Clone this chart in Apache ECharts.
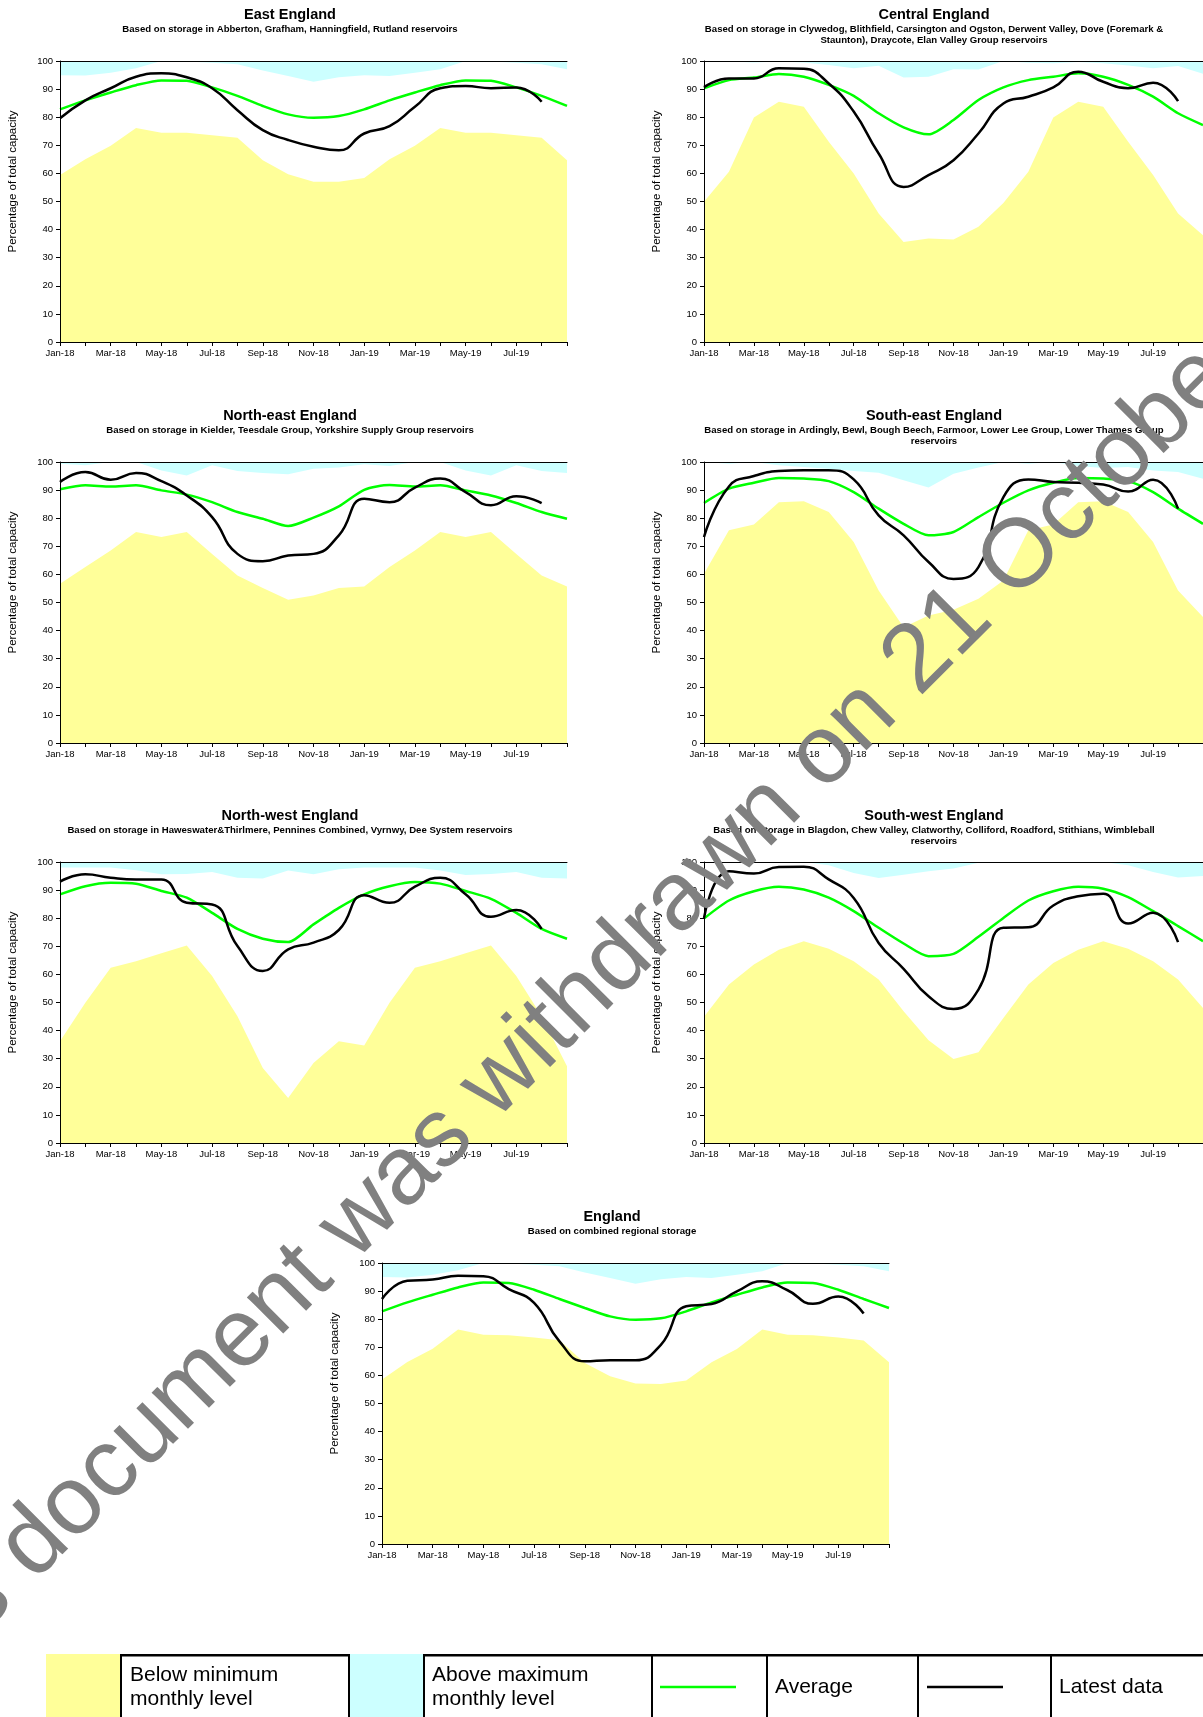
<!DOCTYPE html>
<html>
<head>
<meta charset="utf-8">
<script src="https://cdn.jsdelivr.net/npm/echarts@6/dist/echarts.min.js"></script>
<style>
  html, body { margin: 0; padding: 0; background: #fff; }
  #main { width: 1203px; height: 1717px; }
</style>
</head>
<body>
<div id="main"></div>
<script>
// months on the x axis (Jan-18 .. Sep-19), labels every second month
var months = ['Jan-18', 'Feb-18', 'Mar-18', 'Apr-18', 'May-18', 'Jun-18', 'Jul-18', 'Aug-18', 'Sep-18', 'Oct-18', 'Nov-18', 'Dec-18',
  'Jan-19', 'Feb-19', 'Mar-19', 'Apr-19', 'May-19', 'Jun-19', 'Jul-19', 'Aug-19', 'Sep-19'];
var yTicks = [0, 10, 20, 30, 40, 50, 60, 70, 80, 90, 100];

// East England
var eastMin = [59.4, 65, 69.8, 76.2, 74.5, 74.5, 73.6, 72.7, 64.7, 59.7, 57, 57, 58.4, 65, 69.8, 76.2, 74.5, 74.5, 73.6, 72.7, 64.7];
var eastMax = [94.9, 94.8, 95.8, 97.4, 100, 99.8, 99.4, 98.8, 96.6, 94.7, 92.6, 94.2, 94.9, 94.7, 95.8, 97.1, 100, 99.8, 99.4, 98.8, 97.1];
var eastAvg = [82.8, 86, 88.8, 91.4, 93.1, 93, 90.6, 87.6, 84, 81, 79.8, 80.4, 82.8, 86, 88.8, 91.4, 93.1, 93, 90.6, 87.6, 84];
var eastLatest = [79.6, 86, 90.3, 94.4, 95.6, 94.2, 90.3, 82.5, 75.4, 71.9, 69.5, 68.2, 74.2, 76.8, 83.7, 90.3, 91.1, 90.3, 90.6, 85.5];

// Central England
var centralMin = [49.9, 60.6, 79.9, 85.5, 83.7, 71.3, 60, 45.7, 35.6, 36.8, 36.5, 41, 49.5, 60.6, 79.9, 85.5, 83.7, 71.3, 59.4, 45.7, 38];
var centralMax = [100, 99.8, 99.5, 99.8, 99.5, 98.6, 97.4, 98.3, 94.1, 94.4, 97.1, 97, 100, 99.4, 99.2, 99.6, 99.2, 98.4, 97.4, 98.2, 95.5];
var centralAvg = [90.3, 93.2, 94.1, 95.4, 94.4, 91.5, 87.6, 81.4, 76.4, 73.9, 79, 86.1, 90.6, 93.2, 94.4, 95.6, 94.4, 91.5, 87.3, 81.4, 77.2];
var centralLatest = [90.7, 93.8, 93.8, 97.4, 97.2, 92, 82, 67.1, 55.2, 59.4, 64.7, 74.2, 84.9, 87.3, 90.6, 96.2, 92.6, 90.3, 92.3, 85.7];

// North-east England
var neMin = [56.7, 62.6, 68.5, 75.1, 73.3, 75.1, 67.3, 59.6, 55.2, 51, 52.5, 55.2, 55.7, 62.6, 68.5, 75.1, 73.3, 75.1, 67.3, 59.6, 55.7];
var neMax = [99.4, 98.8, 100, 100, 97, 95.2, 98.8, 96.8, 96.1, 95.6, 97.6, 98, 99.2, 98.6, 100, 100, 97, 95.2, 98.8, 96.8, 96.1];
var neAvg = [90.3, 91.7, 91.3, 91.7, 89.9, 88.4, 85.7, 82.2, 79.8, 77.2, 80.2, 84.2, 90.1, 91.8, 91.3, 91.7, 89.9, 88.1, 85.4, 82.2, 79.8];
var neLatest = [92.9, 96.4, 93.7, 96.1, 93.2, 88.1, 80.4, 67.3, 64.7, 66.7, 67.3, 73.9, 86.9, 85.7, 90.9, 94.1, 89.3, 84.6, 87.8, 85.4];

// South-east England
var seMin = [60.2, 75.7, 77.8, 85.7, 86, 82.2, 71.5, 54.3, 41.2, 45.4, 47.4, 51.3, 57.8, 75.7, 77.8, 85.7, 86, 82.2, 71.5, 54.3, 44.8];
var seMax = [100, 99.4, 100, 98.8, 98.2, 97.6, 96.8, 96.2, 93.5, 90.9, 95.8, 98, 100, 99.4, 100, 98.6, 97.9, 98.2, 97, 96.4, 94];
var seAvg = [85.4, 90.5, 92.6, 94.3, 94.1, 93.2, 89.3, 83.4, 78, 73.9, 75.1, 80.4, 85.5, 89.9, 92.6, 94.3, 94.1, 93.2, 89.3, 83.4, 78];
var seLatest = [73.3, 91.3, 95, 96.8, 97.1, 97.1, 93.8, 81, 73.9, 64.4, 58.4, 62.6, 87.5, 93.8, 92.9, 92.6, 92, 89.5, 93.7, 83.4];

// North-west England
var nwMin = [36.2, 49.9, 62.4, 64.7, 67.5, 70.3, 59.4, 45.1, 26.7, 16, 28.5, 36.2, 34.7, 49.9, 62.4, 64.7, 67.5, 70.3, 59.4, 45.1, 27.3];
var nwMax = [98, 98, 98, 97.1, 95.6, 95.7, 96.4, 94.4, 94.1, 97, 95.6, 97.4, 98, 98, 98, 97, 95.4, 95.7, 96.4, 94.4, 94.1];
var nwAvg = [88.5, 91.4, 92.6, 92.3, 89.7, 87.3, 81.9, 76.2, 72.7, 71.5, 77.8, 83.7, 88.5, 91.4, 92.9, 92.3, 89.7, 86.9, 81.9, 76.2, 72.7];
var nwLatest = [93, 95.6, 94.4, 93.8, 93.8, 85.5, 84.9, 70.1, 61.2, 68.9, 71.3, 75.8, 88.2, 85.5, 91.2, 94.4, 88.5, 80.5, 82.9, 76.2];

// South-west England
var swMin = [44.9, 56.4, 63.5, 68.8, 71.8, 69.1, 64.7, 58.2, 46.9, 36.6, 29.9, 32.3, 44.5, 56.4, 64.1, 68.8, 71.8, 69.1, 64.7, 58.2, 48];
var swMax = [100, 100, 100, 100, 100, 98.8, 96.1, 94.3, 95.5, 96.7, 97.7, 99.7, 100, 100, 100, 100, 100, 98.8, 96.4, 94.5, 95];
var swAvg = [79.9, 86.3, 89.6, 91.2, 90.2, 87.3, 82.5, 76.6, 71, 66.5, 67.3, 73.4, 80.1, 86.3, 89.6, 91.2, 90.5, 87.5, 82.5, 77.2, 71.8];
var swLatest = [80.1, 96.7, 95.9, 98.2, 98.3, 93.8, 87.2, 71.2, 62, 52.2, 47.7, 54.6, 76.6, 76.8, 84.5, 87.8, 88.7, 78.1, 81.9, 71.5];

// England
var engMin = [58.5, 64.8, 69.5, 76.3, 74.5, 74.3, 73.5, 72.5, 64.4, 59.7, 57.1, 56.9, 58.2, 64.7, 69.4, 76.3, 74.5, 74.3, 73.5, 72.4, 64.7];
var engMax = [95, 94.8, 95.8, 97.4, 100, 99.8, 99.4, 98.8, 96.6, 94.7, 92.6, 94.2, 95, 94.7, 95.8, 97.1, 100, 99.8, 99.4, 98.8, 97.1];
var engAvg = [82.8, 86, 88.7, 91.3, 93.1, 92.9, 90.5, 87.2, 84, 81, 79.8, 80.3, 82.8, 86, 88.7, 91.3, 93.1, 92.9, 90.5, 87.2, 84];
var engLatest = [87.2, 93.7, 94.1, 95.5, 95.3, 90.7, 85.8, 72.1, 65, 65.4, 65.4, 70.9, 84.6, 85.4, 89.9, 93.5, 90.3, 85.5, 88.1, 82];

var FONT = '"Liberation Sans", Arial, sans-serif';

// panel layout: plot box position + title centre
var panels = [
  { title: 'East England', sub: 'Based on storage in Abberton, Grafham, Hanningfield, Rutland reservoirs',
    left: 60, top: 61, cx: 290, min: eastMin, max: eastMax, avg: eastAvg, latest: eastLatest },
  { title: 'Central England', sub: 'Based on storage in Clywedog, Blithfield, Carsington and Ogston, Derwent Valley, Dove (Foremark &\nStaunton), Draycote, Elan Valley Group reservoirs',
    left: 704, top: 61, cx: 934, min: centralMin, max: centralMax, avg: centralAvg, latest: centralLatest },
  { title: 'North-east England', sub: 'Based on storage in Kielder, Teesdale Group, Yorkshire Supply Group reservoirs',
    left: 60, top: 462, cx: 290, min: neMin, max: neMax, avg: neAvg, latest: neLatest },
  { title: 'South-east England', sub: 'Based on storage in Ardingly, Bewl, Bough Beech, Farmoor, Lower Lee Group, Lower Thames Group\nreservoirs',
    left: 704, top: 462, cx: 934, min: seMin, max: seMax, avg: seAvg, latest: seLatest },
  { title: 'North-west England', sub: 'Based on storage in Haweswater&Thirlmere, Pennines Combined, Vyrnwy, Dee System reservoirs',
    left: 60, top: 862, cx: 290, min: nwMin, max: nwMax, avg: nwAvg, latest: nwLatest },
  { title: 'South-west England', sub: 'Based on storage in Blagdon, Chew Valley, Clatworthy, Colliford, Roadford, Stithians, Wimbleball\nreservoirs',
    left: 704, top: 862, cx: 934, min: swMin, max: swMax, avg: swAvg, latest: swLatest },
  { title: 'England', sub: 'Based on combined regional storage',
    left: 382, top: 1263, cx: 612, min: engMin, max: engMax, avg: engAvg, latest: engLatest }
];

var titles = [], grids = [], xAxes = [], yAxes = [], series = [];

panels.forEach(function (p, i) {
  titles.push({
    text: p.title, subtext: p.sub, left: p.cx, top: p.top - 54, textAlign: 'center', padding: 0, itemGap: 2,
    textStyle: { fontFamily: FONT, fontSize: 14.5, fontWeight: 'bold', color: '#000' },
    subtextStyle: { fontFamily: FONT, fontSize: 9.6, fontWeight: 'bold', color: '#000', lineHeight: 11 }
  });
  grids.push({ left: p.left, top: p.top, width: 507, height: 281, containLabel: false });
  xAxes.push({
    type: 'category', gridIndex: i, data: months, boundaryGap: false, z: 10,
    axisLine: { lineStyle: { color: '#000', width: 1 } },
    axisTick: { interval: 0, length: 4, lineStyle: { color: '#000' } },
    axisLabel: {
      interval: function (idx) { return idx % 2 === 0 && idx < months.length - 1; },
      fontFamily: FONT, fontSize: 9.5, color: '#000', margin: 6
    },
    splitLine: { show: false }
  });
  // top edge of the plot box
  xAxes.push({
    type: 'category', gridIndex: i, data: months, boundaryGap: false, position: 'top', z: 10,
    axisLine: { lineStyle: { color: '#000', width: 1 } },
    axisTick: { show: false }, axisLabel: { show: false }, splitLine: { show: false }
  });
  yAxes.push({
    type: 'value', gridIndex: i, min: yTicks[0], max: yTicks[yTicks.length - 1], interval: 10, z: 10,
    name: 'Percentage of total capacity', nameLocation: 'middle', nameGap: 41,
    nameTextStyle: { fontFamily: FONT, fontSize: 11.5, color: '#000', padding: [0, 0, 0, 40] },
    axisLine: { show: true, lineStyle: { color: '#000', width: 1 } },
    axisTick: { show: true, length: 4, lineStyle: { color: '#000' } },
    axisLabel: { fontFamily: FONT, fontSize: 9.5, color: '#000', margin: 7 },
    splitLine: { show: false }
  });
  var xi = i * 2;
  series.push({
    name: 'Below minimum monthly level', type: 'line', xAxisIndex: xi, yAxisIndex: i, data: p.min,
    showSymbol: false, silent: true, lineStyle: { width: 0 },
    areaStyle: { color: '#FFFF99', opacity: 1, origin: 'start' }, z: 1
  });
  series.push({
    name: 'Above maximum monthly level', type: 'line', xAxisIndex: xi, yAxisIndex: i, data: p.max,
    showSymbol: false, silent: true, lineStyle: { width: 0 },
    areaStyle: { color: '#CCFFFF', opacity: 1, origin: 'end' }, z: 1
  });
  series.push({
    name: 'Average', type: 'line', xAxisIndex: xi, yAxisIndex: i, data: p.avg,
    showSymbol: false, smooth: 0.25, lineStyle: { color: '#00FF00', width: 2.5 }, z: 3
  });
  series.push({
    name: 'Latest data', type: 'line', xAxisIndex: xi, yAxisIndex: i, data: p.latest,
    showSymbol: false, smooth: 0.5, lineStyle: { color: '#000', width: 2.5 }, z: 4
  });
});

// legend table at the foot of the page
var legendTop = 1654;
var legendText = { fontFamily: FONT, fontSize: 21, fill: '#000', lineHeight: 24, verticalAlign: 'middle' };
var legendGraphic = [
  { type: 'rect', shape: { x: 121, y: legendTop, width: 1082, height: 2.5 }, style: { fill: '#000' } },
  { type: 'rect', shape: { x: 46, y: legendTop, width: 75, height: 70 }, style: { fill: '#FFFF99' } },
  { type: 'rect', shape: { x: 349, y: legendTop, width: 75, height: 70 }, style: { fill: '#CCFFFF' } }
];
[121, 349, 424, 652, 767, 918, 1051].forEach(function (x) {
  legendGraphic.push({ type: 'rect', shape: { x: x - 1, y: legendTop, width: 2, height: 70 }, style: { fill: '#000' } });
});
legendGraphic.push(
  { type: 'text', x: 130, y: 1687, style: Object.assign({ text: 'Below minimum\nmonthly level' }, legendText) },
  { type: 'text', x: 432, y: 1687, style: Object.assign({ text: 'Above maximum\nmonthly level' }, legendText) },
  { type: 'line', shape: { x1: 660, y1: 1687, x2: 736, y2: 1687 }, style: { stroke: '#00FF00', lineWidth: 2.5 } },
  { type: 'text', x: 775, y: 1687, style: Object.assign({ text: 'Average' }, legendText) },
  { type: 'line', shape: { x1: 927, y1: 1687, x2: 1003, y2: 1687 }, style: { stroke: '#000', lineWidth: 2.5 } },
  { type: 'text', x: 1059, y: 1687, style: Object.assign({ text: 'Latest data' }, legendText) }
);

// withdrawn watermark across the page
legendGraphic.push({
  type: 'text', x: -133, y: 1712, rotation: Math.PI / 4, z: 100,
  style: { text: 'This document was withdrawn on 21 October', fontFamily: FONT, fontSize: 97, fill: '#808080', align: 'left', verticalAlign: 'middle' }
});

var chart = echarts.init(document.getElementById('main'), null, { renderer: 'canvas' });
chart.setOption({
  backgroundColor: '#fff',
  animation: false,
  title: titles,
  grid: grids,
  xAxis: xAxes,
  yAxis: yAxes,
  series: series,
  graphic: legendGraphic
});
</script>
</body>
</html>
